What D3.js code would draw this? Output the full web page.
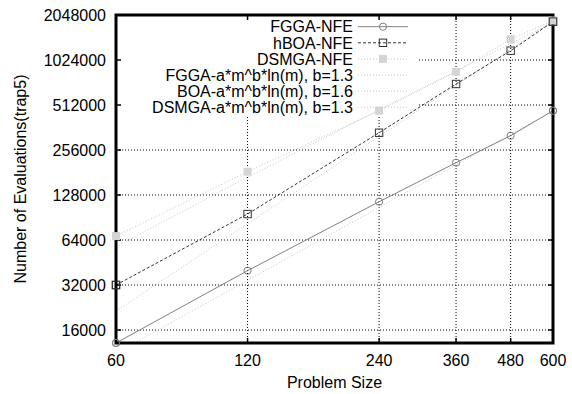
<!DOCTYPE html>
<html>
<head>
<meta charset="utf-8">
<script src="https://cdn.jsdelivr.net/npm/d3@7"></script>
<style>
  html, body { margin: 0; padding: 0; background: #fff; }
  svg { display: block; font-family: "Liberation Sans", Arial, Helvetica, sans-serif; }
  .tick-label, .axis-title, .key-label { font-size: 16px; fill: #000; }
  .grid-line { stroke: #000; stroke-width: 1; stroke-dasharray: 1 2; }
  .border { fill: none; stroke: #000; stroke-width: 3; }
</style>
</head>
<body>
<div id="chart"></div>
<script>
/* ── Data ────────────────────────────────────────────────── */
const problemSizes = [60, 120, 240, 360, 480, 600];

const fggaNFE  = [13100, 39900, 115400, 210500, 319100, 469000];
const hboaNFE  = [32000, 95500, 334000, 707600, 1182000, 1850000];
const dsmgaNFE = [68000, 183300, 469000, 855000, 1408000, 1880000];

// fitted curves a*m^b*ln(m), sampled at the same sizes
const fggaFit  = [11190, 34400, 105700, 203800, 325000, 466800];
const boaFit   = [21410, 82150, 315200, 692600, 1211000, 1867000];
const dsmgaFit = [57720, 168400, 474800, 864500, 1318000, 1824000];

const xTicks = [60, 120, 240, 360, 480, 600];
const yTicks = [16000, 32000, 64000, 128000, 256000, 512000, 1024000, 2048000];

const seriesNames = [
  "FGGA-NFE",
  "hBOA-NFE",
  "DSMGA-NFE",
  "FGGA-a*m^b*ln(m), b=1.3",
  "BOA-a*m^b*ln(m), b=1.6",
  "DSMGA-a*m^b*ln(m), b=1.3"
];

/* ── Layout ──────────────────────────────────────────────── */
const W = 572, H = 394;
const plot = { left: 116, right: 553, top: 15, bottom: 343 };

const x = d3.scaleLog().domain([60, 600]).range([plot.left, plot.right]);
const y = d3.scaleLog().base(2).domain([13100, 2048000]).range([plot.bottom, plot.top]);

const svg = d3.select("#chart").append("svg")
  .attr("width", W)
  .attr("height", H);

svg.append("defs").append("clipPath")
    .attr("id", "plotClip")
  .append("rect")
    .attr("x", plot.left)
    .attr("y", plot.top)
    .attr("width", plot.right - plot.left)
    .attr("height", plot.bottom - plot.top);

/* ── Grid ────────────────────────────────────────────────── */
svg.selectAll(".grid-y")
  .data(yTicks.slice(0, -1))
  .join("line")
    .attr("class", "grid-line")
    .attr("x1", plot.left).attr("x2", plot.right)
    .attr("y1", d => y(d)).attr("y2", d => y(d));

svg.selectAll(".grid-x")
  .data(xTicks.slice(1, -1))
  .join("line")
    .attr("class", "grid-line")
    .attr("x1", d => x(d)).attr("x2", d => x(d))
    .attr("y1", plot.top).attr("y2", plot.bottom);

// opaque key box hides the grid behind the legend
svg.append("rect")
  .attr("x", plot.left + 2)
  .attr("y", plot.top + 2)
  .attr("width", 418 - plot.left - 2)
  .attr("height", 115 - plot.top - 2)
  .attr("fill", "#fff");

/* ── Series styles ───────────────────────────────────────── */
const styles = [
  { values: fggaNFE,  stroke: "#808080", dash: null,  marker: "circle" },
  { values: hboaNFE,  stroke: "#333333", dash: "3 2", marker: "square" },
  { values: dsmgaNFE, stroke: "#c4c4c4", dash: "1 2", marker: "filled" },
  { values: fggaFit,  stroke: "#c4c4c4", dash: "1 2", marker: null },
  { values: boaFit,   stroke: "#c4c4c4", dash: "1 2", marker: null },
  { values: dsmgaFit, stroke: "#c4c4c4", dash: "1 2", marker: null }
];

const line = d3.line()
  .x(d => x(d[0]))
  .y(d => y(d[1]));

const lineG = svg.append("g").attr("clip-path", "url(#plotClip)");

// fits first, then data on top
[3, 4, 5, 2, 1, 0].forEach(i => {
  const s = styles[i];
  lineG.append("path")
    .datum(problemSizes.map((m, j) => [m, s.values[j]]))
    .attr("fill", "none")
    .attr("stroke", s.stroke)
    .attr("stroke-width", 1)
    .attr("stroke-dasharray", s.dash)
    .attr("d", line);
});

function drawMarker(g, kind, cx, cy, color) {
  if (kind === "circle") {
    g.append("circle")
      .attr("cx", cx).attr("cy", cy).attr("r", 3.6)
      .attr("fill", "none").attr("stroke", color).attr("stroke-width", 1);
  } else if (kind === "square") {
    g.append("rect")
      .attr("x", cx - 3.7).attr("y", cy - 3.7)
      .attr("width", 7.4).attr("height", 7.4)
      .attr("fill", "none").attr("stroke", color).attr("stroke-width", 1);
  } else if (kind === "filled") {
    g.append("rect")
      .attr("x", cx - 4).attr("y", cy - 4)
      .attr("width", 8).attr("height", 8)
      .attr("fill", "#d4d4d4");
  }
}

const markerG = svg.append("g");
[2, 1, 0].forEach(i => {
  const s = styles[i];
  problemSizes.forEach((m, j) => {
    drawMarker(markerG, s.marker, x(m), y(s.values[j]), s.stroke);
  });
});

/* ── Ticks (mirrored, inward) ────────────────────────────── */
const tickLen = 5;
const tickG = svg.append("g").attr("stroke", "#000").attr("stroke-width", 1.5);

yTicks.forEach(v => {
  tickG.append("line").attr("x1", plot.left).attr("x2", plot.left + tickLen)
    .attr("y1", y(v)).attr("y2", y(v));
  tickG.append("line").attr("x1", plot.right).attr("x2", plot.right - tickLen)
    .attr("y1", y(v)).attr("y2", y(v));
});
xTicks.forEach(v => {
  tickG.append("line").attr("x1", x(v)).attr("x2", x(v))
    .attr("y1", plot.bottom).attr("y2", plot.bottom - tickLen);
  tickG.append("line").attr("x1", x(v)).attr("x2", x(v))
    .attr("y1", plot.top).attr("y2", plot.top + tickLen);
});

/* ── Border ──────────────────────────────────────────────── */
svg.append("rect")
  .attr("class", "border")
  .attr("x", plot.left)
  .attr("y", plot.top)
  .attr("width", plot.right - plot.left)
  .attr("height", plot.bottom - plot.top);

// markers at the edge sit over the border
[2, 1, 0].forEach(i => {
  const s = styles[i];
  drawMarker(svg, s.marker, x(problemSizes[0]), y(s.values[0]), s.stroke);
  drawMarker(svg, s.marker, x(problemSizes[5]), y(s.values[5]), s.stroke);
});

/* ── Tick labels & titles ────────────────────────────────── */
svg.selectAll(".y-label")
  .data(yTicks)
  .join("text")
    .attr("class", "tick-label")
    .attr("x", plot.left - 10)
    .attr("y", d => y(d))
    .attr("dy", "0.36em")
    .attr("text-anchor", "end")
    .text(d => d);

svg.selectAll(".x-label")
  .data(xTicks)
  .join("text")
    .attr("class", "tick-label")
    .attr("x", d => x(d))
    .attr("y", 366)
    .attr("text-anchor", "middle")
    .text(d => d);

svg.append("text")
  .attr("class", "axis-title")
  .attr("x", (plot.left + plot.right) / 2)
  .attr("y", 388)
  .attr("text-anchor", "middle")
  .text("Problem Size");

svg.append("text")
  .attr("class", "axis-title")
  .attr("transform", `translate(26,${(plot.top + plot.bottom) / 2}) rotate(-90)`)
  .attr("text-anchor", "middle")
  .text("Number of Evaluations(trap5)");

/* ── Legend ──────────────────────────────────────────────── */
const key = { textRight: 353, x1: 358, x2: 408, y0: 26.7, dy: 16.1 };

seriesNames.forEach((name, i) => {
  const s = styles[i];
  const ky = key.y0 + i * key.dy;

  svg.append("text")
    .attr("class", "key-label")
    .attr("x", key.textRight)
    .attr("y", ky)
    .attr("dy", "0.36em")
    .attr("text-anchor", "end")
    .text(name);

  svg.append("line")
    .attr("x1", key.x1).attr("x2", key.x2)
    .attr("y1", ky).attr("y2", ky)
    .attr("stroke", s.stroke)
    .attr("stroke-width", 1)
    .attr("stroke-dasharray", s.dash);

  drawMarker(svg, s.marker, (key.x1 + key.x2) / 2, ky, s.stroke);
});
</script>
</body>
</html>
